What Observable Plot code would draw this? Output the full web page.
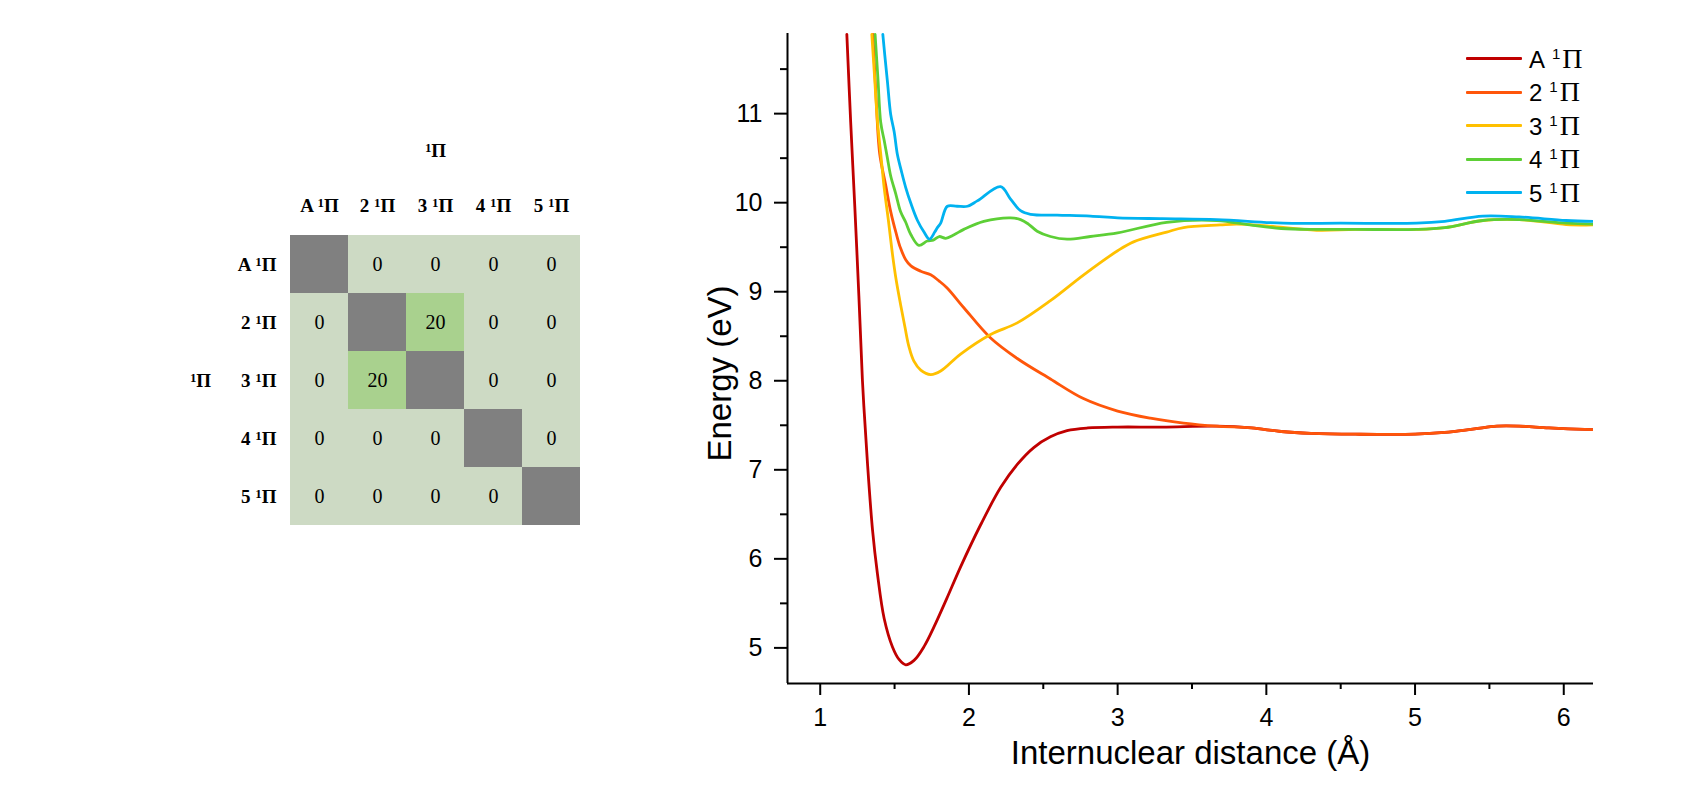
<!DOCTYPE html>
<html>
<head>
<meta charset="utf-8">
<script src="https://cdn.jsdelivr.net/npm/d3@7"></script>
<script src="https://cdn.jsdelivr.net/npm/@observablehq/plot@0.6"></script>
<style>
html, body { margin: 0; padding: 0; background: #fff; }
#root { position: relative; width: 1689px; height: 794px; overflow: hidden; background: #fff; }
#matrix { position: absolute; left: 170px; top: 120px; }
#chart { position: absolute; left: 640px; top: 0px; }
#legend { position: absolute; left: 1466px; top: 42px; font-family: "Liberation Sans", Arial, sans-serif; font-size: 24px; color: #000; }
#legend .row { display: flex; align-items: center; height: 33.5px; white-space: nowrap; }
#legend .swatch { width: 56px; height: 3px; margin-right: 7px; border-radius: 1px; }
#legend .sup { font-size: 15px; position: relative; top: -9px; margin-left: 7px; margin-right: 2px; }
#legend .pi { font-family: "Liberation Serif", "Times New Roman", serif; font-size: 28px; }
</style>
</head>
<body>
<div id="root">
  <div id="matrix"></div>
  <div id="chart"></div>
  <div id="legend"></div>
</div>
<script>
// ---------- coupling matrix data ----------
const states = ["A ¹Π", "2 ¹Π", "3 ¹Π", "4 ¹Π", "5 ¹Π"];
const couplingRows = [
  [null, 0, 0, 0, 0],
  [0, null, 20, 0, 0],
  [0, 20, null, 0, 0],
  [0, 0, 0, null, 0],
  [0, 0, 0, 0, null]
];
const cellKinds = ["diag", "zero", "coupled"];
const cellColors = ["#808080", "#CDDAC4", "#A9D18E"];
const matrixAxisLabel = "¹Π";

// ---------- potential energy curves ----------
const seriesNames = ["A", "2", "3", "4", "5"];
const seriesColors = ["#C00000", "#FF560A", "#FFC000", "#5DCF36", "#00B2F0"];

const rA = [1.179,1.205,1.233,1.26,1.284,1.318,1.352,1.385,1.43,1.486,1.53,1.575,1.631,1.70,1.765,1.85,1.944,2.078,2.213,2.325,2.436,2.548,2.66,2.80,3.0,3.3,3.667,3.9,4.1,4.3,4.6,5.0,5.2,5.4,5.55,5.7,5.9,6.2];
const eA = [11.89,10.9,9.94,8.95,8.0,7.07,6.32,5.83,5.33,5.01,4.87,4.81,4.86,5.02,5.235,5.55,5.91,6.38,6.80,7.06,7.25,7.37,7.44,7.47,7.48,7.48,7.49,7.47,7.43,7.41,7.40,7.40,7.42,7.46,7.49,7.49,7.47,7.45];

const r2 = [1.355,1.375,1.40,1.44,1.474,1.51,1.54,1.575,1.61,1.676,1.743,1.80,1.855,1.966,2.146,2.325,2.548,2.77,3.0,3.22,3.443,3.667,3.9,4.1,4.3,4.6,5.0,5.2,5.4,5.55,5.7,5.9,6.2];
const e2 = [11.89,11.2,10.55,10.2,9.9,9.66,9.49,9.36,9.29,9.23,9.19,9.12,9.04,8.82,8.48,8.25,8.02,7.80,7.66,7.58,7.525,7.49,7.47,7.43,7.41,7.40,7.40,7.42,7.46,7.49,7.49,7.47,7.45];

const r3 = [1.347,1.366,1.385,1.41,1.43,1.46,1.486,1.51,1.54,1.57,1.597,1.63,1.676,1.743,1.81,1.944,2.146,2.325,2.548,2.772,3.0,3.107,3.33,3.443,3.69,3.8,4.0,4.338,4.6,5.01,5.2,5.456,5.7,6.016,6.2];
const e3 = [11.89,11.4,10.91,10.5,10.17,9.78,9.42,9.14,8.86,8.6,8.38,8.22,8.12,8.07,8.11,8.30,8.52,8.65,8.90,9.19,9.46,9.56,9.67,9.72,9.75,9.76,9.74,9.69,9.70,9.70,9.72,9.80,9.81,9.755,9.75];

const r4 = [1.369,1.388,1.407,1.43,1.452,1.474,1.508,1.54,1.575,1.61,1.664,1.72,1.76,1.80,1.844,1.90,1.966,2.10,2.28,2.347,2.40,2.459,2.548,2.66,2.817,3.0,3.33,3.667,3.89,4.1,4.338,4.6,5.01,5.2,5.456,5.7,6.016,6.2];
const e4 = [11.89,11.4,10.9,10.7,10.5,10.3,10.1,9.90,9.78,9.64,9.52,9.57,9.58,9.62,9.60,9.64,9.70,9.79,9.83,9.81,9.76,9.68,9.62,9.59,9.62,9.66,9.78,9.80,9.75,9.71,9.70,9.70,9.70,9.72,9.80,9.81,9.77,9.76];

const r5 = [1.421,1.434,1.452,1.474,1.497,1.519,1.545,1.575,1.61,1.654,1.698,1.735,1.77,1.788,1.81,1.855,1.92,1.99,2.056,2.213,2.28,2.347,2.414,2.593,2.817,3.0,3.3,3.667,4.114,4.5,5.01,5.2,5.456,5.7,6.016,6.2];
const e5 = [11.89,11.66,11.36,10.99,10.8,10.54,10.36,10.17,9.99,9.80,9.67,9.59,9.67,9.72,9.77,9.96,9.96,9.96,10.02,10.18,10.04,9.91,9.87,9.86,9.85,9.83,9.82,9.81,9.77,9.77,9.77,9.79,9.85,9.84,9.80,9.79];

const seriesR = [rA, r2, r3, r4, r5];
const seriesE = [eA, e2, e3, e4, e5];

const xDomain = [0.78, 6.2];
const yDomain = [4.6, 11.9];
const xTicks = [1, 2, 3, 4, 5, 6];
const xMinorTicks = [1.5, 2.5, 3.5, 4.5, 5.5];
const yTicks = [5, 6, 7, 8, 9, 10, 11];
const yMinorTicks = [5.5, 6.5, 7.5, 8.5, 9.5, 10.5, 11.5];
const xLabel = "Internuclear distance (Å)";
const yLabel = "Energy (eV)";

// ---------- matrix plot ----------
const cells = [];
couplingRows.forEach((row, i) => row.forEach((v, j) => cells.push({
  row: states[i], col: states[j], value: v,
  kind: v === null ? "diag" : (v > 0 ? "coupled" : "zero")
})));

const matrix = Plot.plot({
  width: 422, height: 420,
  marginLeft: 118, marginTop: 113, marginRight: 10, marginBottom: 13,
  style: { fontFamily: "'Liberation Serif', 'Times New Roman', serif", fontSize: "19px", color: "#000", background: "transparent", overflow: "visible" },
  x: { domain: states, padding: 0 },
  y: { domain: states, padding: 0 },
  color: { domain: cellKinds, range: cellColors },
  marks: [
    Plot.cell(cells, { x: "col", y: "row", fill: "kind", inset: 0 }),
    Plot.text(cells.filter(d => d.value !== null), { x: "col", y: "row", text: d => String(d.value), fontSize: 20 }),
    Plot.axisX({ anchor: "top", tickSize: 0, tickPadding: 22, fontWeight: "bold", label: null }),
    Plot.axisY({ anchor: "left", tickSize: 0, tickPadding: 12, fontWeight: "bold", label: null }),
    Plot.text([matrixAxisLabel], { text: d => d, frameAnchor: "top", textAnchor: "middle", lineAnchor: "middle", dy: -83, fontWeight: "bold" }),
    Plot.text([matrixAxisLabel], { text: d => d, frameAnchor: "left", textAnchor: "middle", lineAnchor: "middle", dx: -88, fontWeight: "bold" })
  ]
});
document.getElementById("matrix").appendChild(matrix);

// render the superscript "¹" as a larger raised "1", like the reference
const SVGNS = "http://www.w3.org/2000/svg";
matrix.querySelectorAll("text").forEach(t => {
  const targets = t.querySelectorAll("tspan").length ? Array.from(t.querySelectorAll("tspan")) : [t];
  targets.forEach(node => {
    const s = node.textContent;
    const k = s.indexOf("¹");
    if (k < 0) return;
    node.textContent = "";
    if (k > 0) node.appendChild(document.createTextNode(s.slice(0, k)));
    const sup = document.createElementNS(SVGNS, "tspan");
    sup.setAttribute("font-size", "0.68em");
    sup.setAttribute("dy", "-0.32em");
    sup.textContent = "1";
    const rest = document.createElementNS(SVGNS, "tspan");
    rest.setAttribute("dy", "0.2176em");
    rest.textContent = s.slice(k + 1);
    node.appendChild(sup);
    node.appendChild(rest);
  });
});

// ---------- curves plot ----------
const table = [];
seriesR.forEach((rs, k) => rs.forEach((r, i) => table.push({ state: seriesNames[k], r, E: seriesE[k][i] })));

const chart = Plot.plot({
  width: 1049, height: 794,
  marginLeft: 147, marginTop: 33, marginRight: 96, marginBottom: 111,
  style: { fontFamily: "'Liberation Sans', Arial, sans-serif", fontSize: "25px", color: "#000", background: "transparent", overflow: "visible" },
  x: { domain: xDomain },
  y: { domain: yDomain },
  color: { domain: seriesNames, range: seriesColors },
  marks: [
    Plot.line(table, { x: "r", y: "E", z: "state", stroke: "state", strokeWidth: 2.8, curve: "catmull-rom", clip: true }),
    Plot.ruleX([xDomain[0]], { stroke: "#000", strokeWidth: 2 }),
    Plot.ruleY([yDomain[0]], { stroke: "#000", strokeWidth: 2 }),
    Plot.axisX({ ticks: xTicks, tickSize: 12, tickPadding: 13, strokeWidth: 2, tickFormat: d => String(d), label: null }),
    Plot.axisX({ ticks: xMinorTicks, tickSize: 6, strokeWidth: 2, tickFormat: () => "", label: null }),
    Plot.axisY({ ticks: yTicks, tickSize: 13, tickPadding: 12, strokeWidth: 2, tickFormat: d => String(d), label: null }),
    Plot.axisY({ ticks: yMinorTicks, tickSize: 7, strokeWidth: 2, tickFormat: () => "", label: null }),
    Plot.text([yLabel], { text: d => d, frameAnchor: "left", textAnchor: "middle", rotate: -90, dx: -57, dy: 15, lineAnchor: "bottom", fontSize: 33 }),
    Plot.text([xLabel], { text: d => d, frameAnchor: "bottom", textAnchor: "middle", dy: 80, lineAnchor: "bottom", fontSize: 33 })
  ]
});
document.getElementById("chart").appendChild(chart);

// ---------- legend ----------
const legend = document.getElementById("legend");
seriesNames.forEach((name, k) => {
  const row = document.createElement("div");
  row.className = "row";
  const sw = document.createElement("span");
  sw.className = "swatch";
  sw.style.background = seriesColors[k];
  const label = document.createElement("span");
  label.innerHTML = name + '<span class="sup">1</span><span class="pi">Π</span>';
  row.appendChild(sw);
  row.appendChild(label);
  legend.appendChild(row);
});
</script>
</body>
</html>
